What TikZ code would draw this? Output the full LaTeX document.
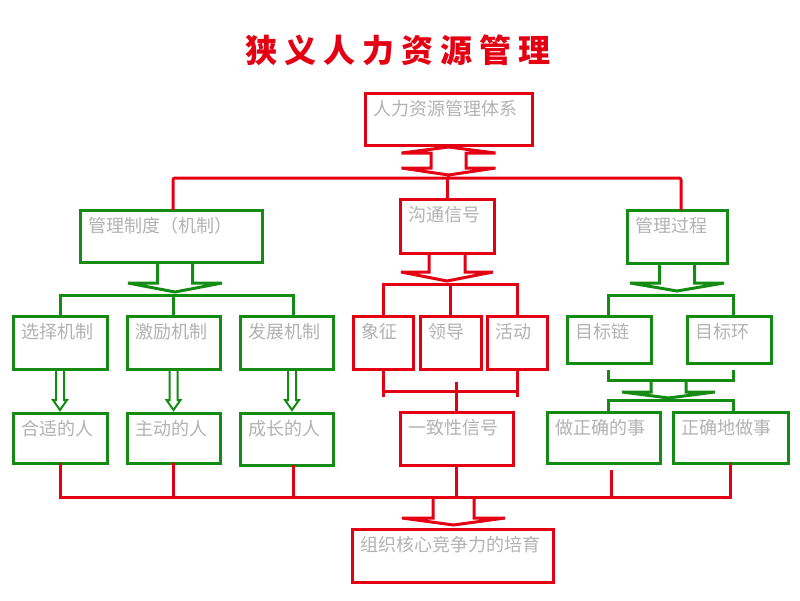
\documentclass[tikz,border=0pt]{standalone}
\usepackage{fontspec}
\newfontfamily\cjk{Noto Sans CJK SC}
\definecolor{rd}{RGB}{228,0,18}
\definecolor{gn}{RGB}{20,140,20}
\definecolor{tx}{RGB}{178,178,178}
\newcommand\mybox[7]{%
  \pgfmathsetmacro\mybw{#4-#2-16}\pgfmathsetmacro\mybd{#5-#3-26}%
  \node[bxs,draw=#6,text width=\mybw pt,text depth=\mybd pt] (#1) at (#2,#3) {#7};}
\begin{document}
\begin{tikzpicture}[x=1pt,y=-1pt,line width=3pt,
  bxs/.style={anchor=north west,inner xsep=8pt,inner ysep=4pt,text height=18pt,align=left,
    font=\cjk\fontsize{18}{19}\selectfont,text=tx,outer sep=0pt,fill=white},
  rl/.style={draw=rd,line width=3pt},
  gl/.style={draw=gn,line width=3pt},
  pics/hdown/.style args={#1/#2/#3/#4}{code={\draw[pic actions,line join=miter]
     (-#1,0) -- (-#1,#3) -- (-#2,#3) -- (0,#3+#4) -- (#2,#3) -- (#1,#3) -- (#1,0);}}]
\useasboundingbox (0,0) rectangle (800,600);

\node[font=\cjk\bfseries\fontsize{32}{34}\selectfont,text=rd] (title) at (398,50)
  {狭\hspace{7pt}义\hspace{7pt}人\hspace{7pt}力\hspace{7pt}资\hspace{7pt}源\hspace{7pt}管\hspace{7pt}理};

\mybox{sys}{365}{93}{532}{145}{rd}{人力资源管理体系}
\mybox{zd}{80}{210}{262}{262}{gn}{管理制度（机制）}
\mybox{gt}{400}{199}{494}{253}{rd}{沟通信号}
\mybox{gc}{627}{210}{727}{263}{gn}{管理过程}
\mybox{xz}{13}{316}{107}{369}{gn}{选择机制}
\mybox{jl}{127}{316}{220}{369}{gn}{激励机制}
\mybox{fz}{240}{316}{333}{369}{gn}{发展机制}
\mybox{xzh}{353}{316}{413}{369}{rd}{象征}
\mybox{ld}{420}{316}{481}{369}{rd}{领导}
\mybox{hd}{487}{316}{547}{369}{rd}{活动}
\mybox{mbl}{567}{316}{651}{363}{gn}{目标链}
\mybox{mbh}{687}{316}{771}{363}{gn}{目标环}
\mybox{hs}{13}{413}{107}{463}{gn}{合适的人}
\mybox{zd2}{127}{413}{220}{463}{gn}{主动的人}
\mybox{cz}{240}{413}{333}{465}{gn}{成长的人}
\mybox{yz}{400}{412}{513}{465}{rd}{一致性信号}
\mybox{zq}{547}{412}{660}{463}{gn}{做正确的事}
\mybox{zqd}{673}{412}{788}{463}{gn}{正确地做事}
\mybox{bt}{352}{529}{553}{582}{rd}{组织核心竞争力的培育}

% top double arrow
\draw[rl,line join=miter,shift={(sys.south)}] (-17.5,8) -- (-47,8) -- (0,2) -- (47,8) -- (17.5,8)
  -- (17.5,23) -- (47,23) -- (0,30) -- (-47,23) -- (-17.5,23) -- cycle;
\coordinate (tb) at (448.5,178);
\draw[rl] ([yshift=-30pt]sys.south) -- (sys.south |- tb);
\coordinate (zdt) at ([xshift=93pt]zd.north west);
\coordinate (gct) at ([xshift=54pt]gc.north west);
\draw[rl,rounded corners=2pt] (zdt) |- (tb) -| (gct);
\draw[rl] (gt.north) -- (gt.north |- tb);

% left green group
\pic[draw=gn] at ([xshift=95pt]zd.south west) {hdown=17.5/47/21/9};
\coordinate (gb1) at (175.5,295);
\coordinate (fzt) at ([xshift=53pt]fz.north west);
\draw[gl] (xz.north) |- (gb1) -| (fzt);
\draw[gl] (jl.north) -- (jl.north |- gb1);
\pic[draw=gn,line width=2pt] at (xz.south) {hdown=4/7/31/10};
\pic[draw=gn,line width=2pt] at (jl.south) {hdown=4/7/31/10};
\pic[draw=gn,line width=2pt] at ([xshift=52pt]fz.south west) {hdown=4/7/31/10};

% middle red group
\pic[draw=rd] at (gt.south) {hdown=18/46/19/9};
\coordinate (mb1) at (450,284);
\draw[rl] (xzh.north) |- (mb1) -| (hd.north);
\draw[rl] (ld.north) -- (ld.north |- mb1);
\coordinate (mb2) at (453,391);
\draw[rl] (xzh.south) -- ([yshift=-28pt]xzh.south);
\draw[rl] (hd.south) -- ([yshift=-28pt]hd.south);
\draw[rl] (xzh.south |- mb2) -- (hd.south |- mb2);
\draw[rl] (yz.north) -- ([yshift=30pt]yz.north);

% right green group
\pic[draw=gn] at (gc.south) {hdown=17.5/47/20/8};
\coordinate (gb2) at (675.5,295);
\coordinate (mblt) at ([xshift=-1pt]mbl.north);
\coordinate (mbht) at ([xshift=4pt]mbh.north);
\draw[gl] (mblt) |- (gb2) -| (mbht);
\coordinate (gb3) at (668.5,380);
\coordinate (mblb) at ([xshift=-1pt,yshift=-7pt]mbl.south);
\coordinate (mbhb) at ([xshift=4pt,yshift=-7pt]mbh.south);
\draw[gl] (mblb) |- (gb3) -| (mbhb);
\pic[draw=gn] at (gb3) {hdown=17.5/46.5/12/6};
\coordinate (gb4) at (668.5,400);
\coordinate (zqt) at ([xshift=61pt]zq.north west);
\coordinate (zqdt) at ([xshift=60pt]zqd.north west);
\draw[gl] (zqt) |- (gb4) -| (zqdt);

% bottom red bar
\coordinate (rbar) at (453.5,497);
\draw[rl] (hs.south) |- (rbar) -| (zqd.south);
\draw[rl] (zd2.south) -- (zd2.south |- rbar);
\coordinate (czb) at ([xshift=53pt]cz.south west);
\draw[rl] (czb) -- (czb |- rbar);
\draw[rl] (yz.south) -- (yz.south |- rbar);
\coordinate (zqb) at ([xshift=64pt,yshift=-7pt]zq.south west);
\draw[rl] (zqb) -- (zqb |- rbar);
\pic[draw=rd] at (rbar) {hdown=20.5/51.5/21/7};
\end{tikzpicture}
\end{document}
